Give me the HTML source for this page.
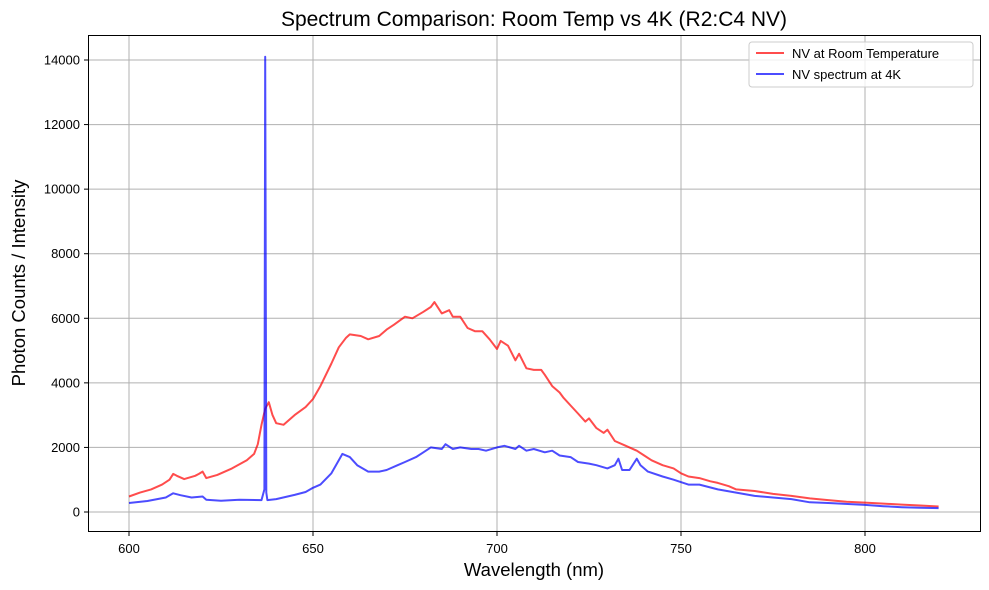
<!DOCTYPE html>
<html><head><meta charset="utf-8"><style>
body{margin:0;background:#fff;}
svg{display:block;font-family:"Liberation Sans","DejaVu Sans",sans-serif;}
</style></head><body>
<svg id="chart" width="989" height="590">
<rect x="0" y="0" width="989" height="590" fill="#fff"/>
<g id="grid"></g>
<g id="series"></g>
<rect x="88.5" y="35.5" width="892" height="496" fill="none" stroke="#000" stroke-width="1"/>
<g id="ticks"></g>
<text x="534" y="26" text-anchor="middle" font-size="21">Spectrum Comparison: Room Temp vs 4K (R2:C4 NV)</text>
<text x="534" y="576" text-anchor="middle" font-size="18.5">Wavelength (nm)</text>
<text transform="translate(25,283) rotate(-90)" text-anchor="middle" font-size="18.5">Photon Counts / Intensity</text>
<g>
<rect x="749" y="42" width="224" height="45" rx="3" fill="#fff" fill-opacity="0.8" stroke="#ccc"/>
<g>
<line x1="756" y1="53" x2="784" y2="53" stroke="#ff0000" stroke-opacity="0.7" stroke-width="2"/>
<text x="792" y="58" font-size="13">NV at Room Temperature</text></g>
<g>
<line x1="756" y1="74" x2="784" y2="74" stroke="#0000ff" stroke-opacity="0.7" stroke-width="2"/>
<text x="792" y="79" font-size="13">NV spectrum at 4K</text></g>
</g>
</svg>
<script>
const xTicks=[600,650,700,750,800];
const yTicks=[0,2000,4000,6000,8000,10000,12000,14000];
const redNm=[600,603,606,609,611,612,613,615,618,619,620,621,624,628,632,634,635,636,637,638,639,640,642,645,648,650,652,655,657,659,660,663,665,668,670,672,675,677,680,682,683,685,687,688,690,692,694,696,698,700,701,703,705,706,708,710,712,713,715,717,718,720,722,724,725,727,729,730,732,735,738,740,742,745,748,750,752,755,758,760,763,765,770,775,780,785,790,795,800,805,810,815,820];
const redVal=[480,600,700,850,1000,1180,1120,1020,1120,1180,1250,1050,1150,1350,1600,1800,2100,2700,3200,3400,3000,2750,2700,3000,3250,3500,3900,4600,5100,5400,5500,5450,5350,5450,5650,5800,6050,6000,6200,6350,6500,6150,6250,6050,6050,5700,5600,5600,5350,5050,5300,5150,4700,4900,4450,4400,4400,4250,3900,3700,3550,3300,3050,2800,2900,2600,2450,2550,2200,2050,1900,1750,1600,1450,1350,1200,1100,1050,950,900,800,700,650,560,500,420,370,320,290,260,230,200,170];
const blueNm=[600,605,610,612,614,617,620,621,625,630,636,636.8,637,637.3,637.6,640,645,648,650,652,655,657,658,660,662,665,668,670,673,675,678,680,682,685,686,688,690,693,695,697,700,702,705,706,708,710,713,715,717,720,722,725,727,730,732,733,734,736,738,739,741,745,748,752,755,760,765,770,775,780,785,790,800,805,810,815,820];
const blueVal=[280,340,450,580,520,450,480,380,350,380,370,700,14100,600,370,400,530,620,750,850,1200,1600,1800,1700,1450,1250,1250,1300,1450,1550,1700,1850,2000,1950,2100,1950,2000,1950,1950,1900,2000,2050,1950,2050,1900,1950,1850,1900,1750,1700,1550,1500,1450,1350,1450,1650,1300,1300,1650,1450,1250,1100,1000,850,850,700,600,500,450,400,300,280,220,180,150,130,120];
const xs=v=>129+(v-600)*3.68;
const ys=v=>512-v*(452/14000);
const NS='http://www.w3.org/2000/svg';
const grid=document.getElementById('grid'),ticks=document.getElementById('ticks'),ser=document.getElementById('series');
xTicks.forEach(t=>{
 const x=xs(t);
 const l=document.createElementNS(NS,'line');
 
 
 l.setAttribute('x1',x);l.setAttribute('x2',x);l.setAttribute('y1',35);l.setAttribute('y2',532);l.setAttribute('stroke','#b0b0b0');l.setAttribute('stroke-width','1');
 grid.appendChild(l);
 const tk=document.createElementNS(NS,'line');
 
 
 tk.setAttribute('x1',x);tk.setAttribute('x2',x);tk.setAttribute('y1',532);tk.setAttribute('y2',536);tk.setAttribute('stroke','#000');
 ticks.appendChild(tk);
 const tx=document.createElementNS(NS,'text');
 
 
 tx.setAttribute('x',x);tx.setAttribute('y',553);tx.setAttribute('text-anchor','middle');tx.setAttribute('font-size','13');
 tx.textContent=t;ticks.appendChild(tx);
});
yTicks.forEach(t=>{
 const y=ys(t);
 const l=document.createElementNS(NS,'line');
 
 
 l.setAttribute('x1',88);l.setAttribute('x2',981);l.setAttribute('y1',y);l.setAttribute('y2',y);l.setAttribute('stroke','#b0b0b0');l.setAttribute('stroke-width','1');
 grid.appendChild(l);
 const tk=document.createElementNS(NS,'line');
 
 
 tk.setAttribute('x1',84);tk.setAttribute('x2',88);tk.setAttribute('y1',y);tk.setAttribute('y2',y);tk.setAttribute('stroke','#000');
 ticks.appendChild(tk);
 const tx=document.createElementNS(NS,'text');
 
 
 tx.setAttribute('x',80);tx.setAttribute('y',y+4.5);tx.setAttribute('text-anchor','end');tx.setAttribute('font-size','13');
 tx.textContent=t;ticks.appendChild(tx);
});
function drawLine(nm,val,color,name){
 const p=document.createElementNS(NS,'polyline');
 
 
 p.setAttribute('points',nm.map((n,i)=>xs(n).toFixed(1)+','+ys(val[i]).toFixed(1)).join(' '));
 p.setAttribute('fill','none');p.setAttribute('stroke',color);p.setAttribute('stroke-opacity','0.7');p.setAttribute('stroke-width','2');p.setAttribute('stroke-linejoin','round');
 ser.appendChild(p);
}
drawLine(redNm,redVal,'#ff0000','room-temp-line');
drawLine(blueNm,blueVal,'#0000ff','4k-line');
</script>
</body></html>
